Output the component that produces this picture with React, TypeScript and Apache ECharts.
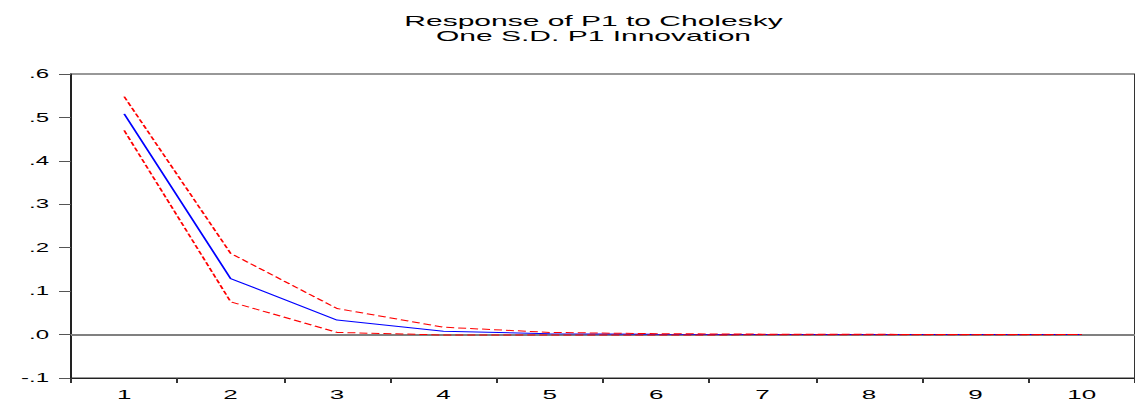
import React, { useEffect, useRef } from "react";
import * as echarts from "echarts";

const titleLines = ["Response of P1 to Cholesky", "One S.D. P1 Innovation"];
const periods = ["1", "2", "3", "4", "5", "6", "7", "8", "9", "10"];
const response = [0.508, 0.129, 0.0335, 0.0075, 0.002, 0.0006, 0.0002, 0.0001, 0.0, 0.0];
const upperBand = [0.548, 0.187, 0.06, 0.017, 0.005, 0.002, 0.001, 0.0005, 0.0003, 0.0002];
const lowerBand = [0.47, 0.0755, 0.005, -0.001, -0.0012, -0.001, -0.0006, -0.0004, -0.0002, -0.0001];
const yMin = -0.1;
const yMax = 0.6;
const yStep = 0.1;

const FONT = "'Liberation Sans', Arial, Helvetica, sans-serif";
const SCALE_X = 2;
const FULL_W = 1135;
const FULL_H = 401;
const W = FULL_W / SCALE_X;

function fmtY(v: number): string {
  return v.toFixed(1).replace(/^(-?)0\./, "$1.");
}

export default function App() {
  const ref = useRef<HTMLDivElement>(null);

  useEffect(() => {
    if (!ref.current) return;
    const chart = echarts.init(ref.current, null, {
      renderer: "svg",
      width: W,
      height: FULL_H,
    });
    chart.setOption({
      animation: false,
      backgroundColor: "#ffffff",
      title: {
        text: titleLines.join("\n"),
        left: 296.75,
        top: 13,
        padding: 0,
        textAlign: "center",
        textStyle: {
          fontFamily: FONT,
          fontSize: 15,
          fontWeight: "normal",
          color: "#000",
          lineHeight: 15,
        },
      },
      grid: {
        left: 35.5,
        top: 74,
        width: 535,
        height: 305.3,
        show: true,
        borderColor: "#333",
        borderWidth: 1,
        backgroundColor: "transparent",
      },
      xAxis: {
        type: "category",
        data: periods,
        boundaryGap: true,
        axisLine: { show: true, onZero: false, lineStyle: { color: "#222", width: 1 } },
        axisTick: { show: true, length: 5, alignWithLabel: false, lineStyle: { color: "#333" } },
        axisLabel: {
          fontFamily: FONT,
          fontSize: 13,
          color: "#000",
          margin: 10,
        },
        splitLine: { show: false },
      },
      yAxis: {
        type: "value",
        min: yMin,
        max: yMax,
        interval: yStep,
        axisLine: { show: true, lineStyle: { color: "#222", width: 1 } },
        axisTick: { show: true, length: 6, lineStyle: { color: "#555" } },
        axisLabel: {
          fontFamily: FONT,
          fontSize: 12,
          color: "#000",
          margin: 11,
          formatter: (v: number) => fmtY(v),
        },
        splitLine: { show: false },
      },
      series: [
        {
          name: "Upper",
          type: "line",
          data: upperBand,
          symbol: "none",
          z: 3,
          lineStyle: { color: "#ff0000", width: 1, type: [4, 2] },
          markLine: {
            silent: true,
            symbol: "none",
            z: 1,
            label: { show: false },
            lineStyle: { color: "#808080", width: 2, type: "solid" },
            data: [{ yAxis: 0 }],
          },
        },
        {
          name: "Lower",
          type: "line",
          data: lowerBand,
          symbol: "none",
          z: 3,
          lineStyle: { color: "#ff0000", width: 1, type: [4, 2] },
        },
        {
          name: "Response",
          type: "line",
          data: response,
          symbol: "none",
          z: 2,
          lineStyle: { color: "#0000ff", width: 1 },
        },
      ],
    });
    return () => chart.dispose();
  }, []);

  return (
    <div
      style={{
        position: "fixed",
        left: 0,
        top: 0,
        width: FULL_W,
        height: FULL_H,
        overflow: "hidden",
        background: "#fff",
      }}
    >
      <div
        ref={ref}
        style={{
          width: W,
          height: FULL_H,
          transform: `scaleX(${SCALE_X})`,
          transformOrigin: "0 0",
        }}
      />
    </div>
  );
}
